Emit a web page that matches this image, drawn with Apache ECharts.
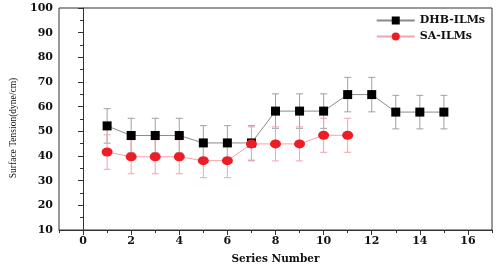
<!DOCTYPE html>
<html><head><meta charset="utf-8">
<script src="https://cdn.jsdelivr.net/npm/echarts@6/dist/echarts.min.js"></script>
<style>html,body{margin:0;padding:0;background:#fff}#c{width:500px;height:270px}</style>
</head><body><div id="c"></div>
<script>
const dhbX = [1,2,3,4,5,6,7,8,9,10,11,12,13,14,15];
const dhbY = [52.2,48.3,48.3,48.3,45.3,45.3,45.3,58.2,58.2,58.2,64.9,64.9,57.8,57.8,57.8];
const dhbErr = [7,7,7,7,7,7,7,7,7,7,7,7,6.8,6.8,6.8];
const saX = [1,2,3,4,5,6,7,8,9,10,11];
const saY = [41.6,39.7,39.7,39.7,38.1,38.1,44.9,44.9,44.9,48.4,48.4];
const saErr = [7,6.9,6.9,6.9,6.9,6.9,6.9,6.9,6.9,6.9,6.9];
const xMajorTicks = [0,2,4,6,8,10,12,14,16];
const xMinorTicks = [-1,1,3,5,7,9,11,13,15,17];
const yTicks = [10,20,30,40,50,60,70,80,90,100];

const serif = 'DejaVu Serif';
const chart = echarts.init(document.getElementById('c'));

function errSeries(xs, ys, es, color) {
  return {
    type: 'custom',
    z: 1,
    silent: true,
    data: xs.map((x, i) => [x, ys[i] - es[i], ys[i] + es[i]]),
    renderItem: function (params, api) {
      const x = api.value(0);
      const lo = api.coord([x, api.value(1)]);
      const hi = api.coord([x, api.value(2)]);
      const w = 3.5;
      const st = { stroke: color, lineWidth: 1 };
      return {
        type: 'group',
        children: [
          { type: 'line', shape: { x1: lo[0], y1: lo[1], x2: hi[0], y2: hi[1] }, style: st },
          { type: 'line', shape: { x1: lo[0] - w, y1: lo[1], x2: lo[0] + w, y2: lo[1] }, style: st },
          { type: 'line', shape: { x1: hi[0] - w, y1: hi[1], x2: hi[0] + w, y2: hi[1] }, style: st }
        ]
      };
    }
  };
}

const axisLineStyle = { color: '#333', width: 1 };
chart.setOption({
  animation: false,
  grid: { left: 54, right: 8, top: 8, bottom: 34, show: true, borderColor: '#333', borderWidth: 1, backgroundColor: 'transparent' },
  legend: {
    data: ['DHB-ILMs', 'SA-ILMs'],
    orient: 'vertical',
    right: 10, top: 10,
    itemWidth: 38, itemHeight: 10, itemGap: 5,
    textStyle: { fontFamily: serif, fontWeight: 'bold', fontSize: 11, color: '#111' }
  },
  xAxis: [{
    type: 'value', min: -1, max: 17,
    name: 'Series Number', nameLocation: 'middle', nameGap: 24,
    nameTextStyle: { fontFamily: serif, fontWeight: 'bold', fontSize: 10.5, color: '#111' },
    axisLine: { lineStyle: axisLineStyle },
    axisTick: { show: true, length: 5, customValues: xMajorTicks, lineStyle: axisLineStyle },
    axisLabel: { customValues: xMajorTicks, fontFamily: serif, fontWeight: 'bold', fontSize: 11, color: '#111', margin: 6 },
    splitLine: { show: false }
  }, {
    type: 'value', min: -1, max: 17, position: 'bottom',
    axisLine: { show: false },
    axisTick: { show: true, length: 3, customValues: xMinorTicks, lineStyle: axisLineStyle },
    axisLabel: { show: false },
    splitLine: { show: false }
  }],
  yAxis: {
    type: 'value', min: 10, max: 100, interval: 10,
    name: 'Surface Tension(dyne/cm)', nameLocation: 'middle', nameGap: 41,
    nameTextStyle: { fontFamily: 'Liberation Serif', fontSize: 9.5, color: '#111', padding: [0, 18, 0, 0] },
    axisLine: { show: true, lineStyle: axisLineStyle },
    axisTick: { show: true, length: 5, lineStyle: axisLineStyle },
    minorTick: { show: true, splitNumber: 2, length: 3, lineStyle: axisLineStyle },
    axisLabel: { fontFamily: serif, fontWeight: 'bold', fontSize: 11, color: '#111', margin: 6,
      customValues: yTicks },
    splitLine: { show: false }
  },
  series: [
    errSeries(dhbX, dhbY, dhbErr, '#a0a0a0'),
    errSeries(saX, saY, saErr, '#f4a3aa'),
    {
      name: 'DHB-ILMs', type: 'line', z: 3,
      data: dhbX.map((x, i) => [x, dhbY[i]]),
      symbol: 'rect', symbolSize: 9,
      itemStyle: { color: '#000' },
      lineStyle: { color: '#8a8a8a', width: 1 }
    },
    {
      name: 'SA-ILMs', type: 'line', z: 4,
      data: saX.map((x, i) => [x, saY[i]]),
      symbol: 'circle', symbolSize: [11, 9],
      itemStyle: { color: '#ee1c25' },
      lineStyle: { color: '#f4a3aa', width: 1 }
    }
  ]
});
</script></body></html>
